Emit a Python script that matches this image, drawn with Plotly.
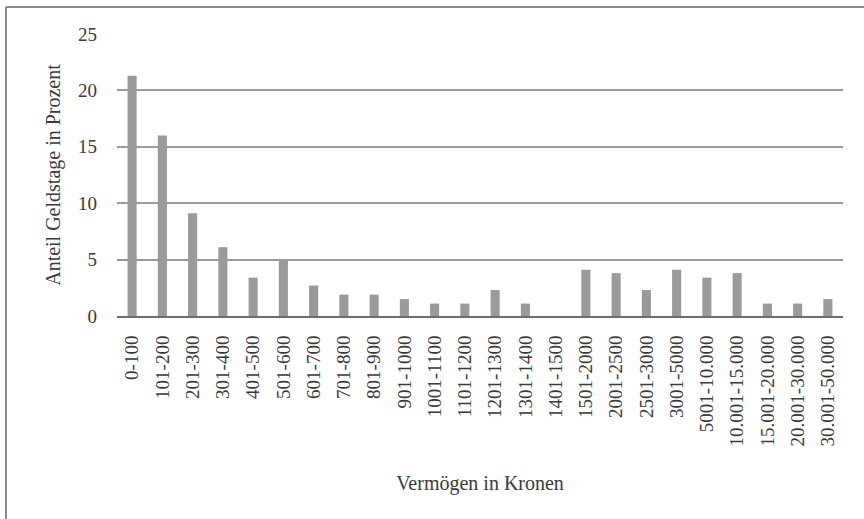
import plotly.graph_objects as go

categories = ["0-100", "101-200", "201-300", "301-400", "401-500", "501-600",
              "601-700", "701-800", "801-900", "901-1000", "1001-1100", "1101-1200",
              "1201-1300", "1301-1400", "1401-1500", "1501-2000", "2001-2500",
              "2501-3000", "3001-5000", "5001-10.000", "10.001-15.000",
              "15.001-20.000", "20.001-30.000", "30.001-50.000"]
shares = [21.3, 16.0, 9.1, 6.1, 3.4, 5.0,
          2.7, 1.9, 1.9, 1.5, 1.1, 1.1,
          2.3, 1.1, 0.0, 4.1, 3.8,
          2.3, 4.1, 3.4, 3.8,
          1.1, 1.1, 1.5]
y_ticks = [0, 5, 10, 15, 20, 25]

W, H = 864, 519
L, R, T, B = 117, 21, 34, 203
pw, ph = W - L - R, H - T - B

font = "Liberation Serif, DejaVu Serif, serif"
txt = "#3a3a3a"

fig = go.Figure(go.Bar(x=categories, y=shares, marker_color="#9a9a9a",
                       marker_line_width=0))

def px_to_paper_x(p):
    return (p - L) / pw

def px_to_paper_y(p):
    return (H - B - p) / ph

fig.update_layout(
    width=W, height=H,
    margin=dict(l=L, r=R, t=T, b=B, pad=0),
    paper_bgcolor="white", plot_bgcolor="white",
    bargap=0.7,
    showlegend=False,
    font=dict(family=font, color=txt),
    xaxis=dict(
        type="category", tickangle=-90, ticks="", showgrid=False,
        showline=True, linecolor="#6e6e6e", linewidth=2,
        tickfont=dict(size=19, color=txt), ticklabelstandoff=10,
        title=dict(text="Vermögen in Kronen", font=dict(size=20, color=txt), standoff=31),
    ),
    yaxis=dict(
        range=[0, 25], tickvals=y_ticks, ticks="",
        showgrid=True, gridcolor="#9a9a9a", gridwidth=1.5,
        zeroline=False, showline=False,
        tickfont=dict(size=19, color=txt), ticklabelstandoff=19,
        title=dict(text="Anteil Geldstage in Prozent", font=dict(size=20, color=txt), standoff=12),
    ),
    shapes=[
        dict(type="line", xref="paper", yref="paper",
             x0=px_to_paper_x(6), x1=px_to_paper_x(W), y0=px_to_paper_y(7), y1=px_to_paper_y(7),
             line=dict(color="#8a8a8a", width=2)),
        dict(type="line", xref="paper", yref="paper",
             x0=px_to_paper_x(6), x1=px_to_paper_x(6), y0=px_to_paper_y(7), y1=px_to_paper_y(H),
             line=dict(color="#8a8a8a", width=2)),
    ],
)

fig.write_html("out.html", config={"displayModeBar": False},
               post_script="document.body.style.margin='0px';document.body.style.overflow='hidden';")
